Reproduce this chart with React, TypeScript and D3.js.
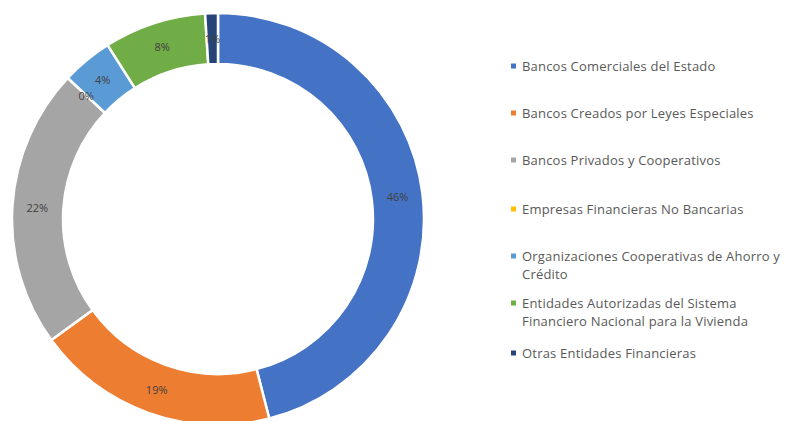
import React from "react";
import * as d3 from "d3";

const categories = [
  "Bancos Comerciales del Estado",
  "Bancos Creados por Leyes Especiales",
  "Bancos Privados y Cooperativos",
  "Empresas Financieras No Bancarias",
  "Organizaciones Cooperativas de Ahorro y Crédito",
  "Entidades Autorizadas del Sistema Financiero Nacional para la Vivienda",
  "Otras Entidades Financieras",
];
const values = [46, 19, 22, 0, 4, 8, 1];
const labels = ["46%", "19%", "22%", "0%", "4%", "8%", "1%"];
const legendLines = [
  ["Bancos Comerciales del Estado"],
  ["Bancos Creados por Leyes Especiales"],
  ["Bancos Privados y Cooperativos"],
  ["Empresas Financieras No Bancarias"],
  ["Organizaciones Cooperativas de Ahorro y", "Crédito"],
  ["Entidades Autorizadas del Sistema", "Financiero Nacional para la Vivienda"],
  ["Otras Entidades Financieras"],
];
const colors = ["#4472C4", "#ED7D31", "#A5A5A5", "#FFC000", "#5B9BD5", "#70AD47", "#264478"];

const W = 786;
const H = 421;
const cx = 218;
const cy = 219;
const outerR = 206;
const innerR = 155;
const labelR = 181;

const legendY = [66, 113, 160, 209, 256, 303, 353];
const lineH = 18;

export default function App() {
  const pie = d3
    .pie<number>()
    .sort(null)
    .value((d) => d)
    .startAngle(0)
    .endAngle(2 * Math.PI);
  const arcs = pie(values);
  const arc = d3.arc<d3.PieArcDatum<number>>().innerRadius(innerR).outerRadius(outerR);
  const font = "'Open Sans', 'DejaVu Sans', sans-serif";

  return (
    <svg
      width={W}
      height={H}
      style={{ position: "absolute", left: 0, top: 0, background: "#fff" }}
      fontFamily={font}
    >
      <rect width={W} height={H} fill="#fff" />
      <g transform={`translate(${cx},${cy})`}>
        {arcs.map((a, i) => (
          <path key={categories[i]} d={arc(a) || ""} fill={colors[i]} stroke="#fff" strokeWidth={2.5} />
        ))}
        {arcs.map((a, i) => {
          const mid = (a.startAngle + a.endAngle) / 2;
          const x = labelR * Math.sin(mid);
          const y = -labelR * Math.cos(mid);
          return (
            <text
              key={"l" + i}
              x={x}
              y={y}
              textAnchor="middle"
              dominantBaseline="central"
              fontSize={11}
              fill="#404040"
            >
              {labels[i]}
            </text>
          );
        })}
      </g>
      <g>
        {legendLines.map((lines, i) => (
          <g key={"lg" + i}>
            <rect x={511} y={legendY[i] - 2.5} width={5} height={5} fill={colors[i]} />
            {lines.map((t, j) => (
              <text
                key={j}
                x={522}
                y={legendY[i] + j * lineH}
                dominantBaseline="central"
                fontSize={13}
                letterSpacing={0.2}
                fill="#595959"
              >
                {t}
              </text>
            ))}
          </g>
        ))}
      </g>
    </svg>
  );
}
